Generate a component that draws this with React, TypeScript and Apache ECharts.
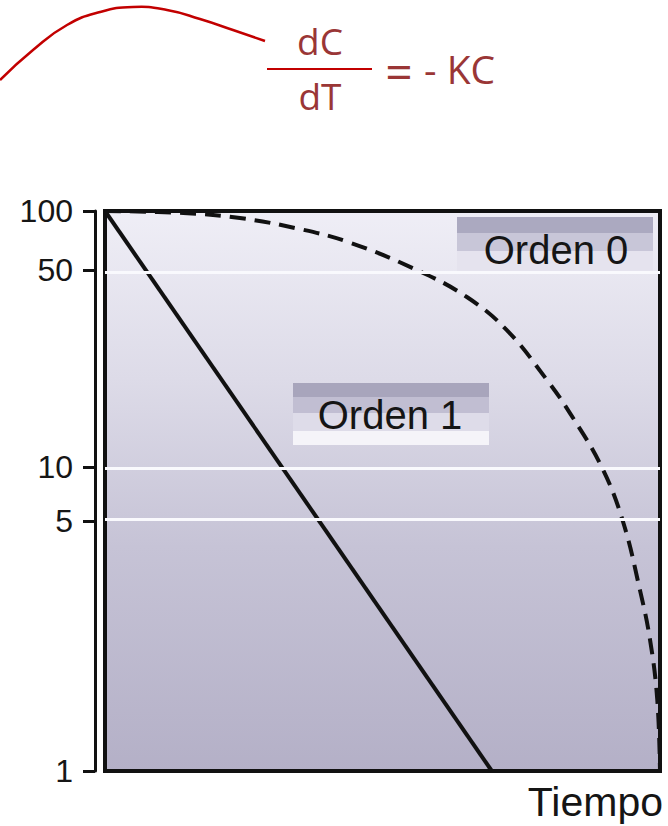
import React, { useEffect, useRef } from "react";
import * as echarts from "echarts";

// ---- data (time in % of the plotted span, concentration on the labelled scale) ----
const order0Time = [0, 14.1, 24.3, 35.1, 43.8, 56.2, 65.2, 72.4, 79.6, 83.8, 89.5, 93.3, 96.4, 98.2, 99.5, 100];
const order0Conc = [100, 97.7, 92.1, 80.9, 69.5, 50, 40.1, 30.6, 20.4, 15.5, 10, 5, 3.2, 2.33, 1.59, 1];
const order1Time = [0, 69.7];
const order1Conc = [100, 1];
const yTickLabels = [1, 5, 10, 50, 100];
const whiteGridValues = [50, 10, 5];

// The figure's vertical scale (hand-drawn, piecewise logarithmic between labelled ticks)
const SCALE_STOPS: [number, number][] = [
  [1, 0],
  [5, 0.4464],
  [10, 0.5429],
  [50, 0.8946],
  [100, 1],
];
function scalePos(c: number): number {
  const lc = Math.log10(c);
  for (let i = 0; i < SCALE_STOPS.length - 1; i++) {
    const [c0, p0] = SCALE_STOPS[i];
    const [c1, p1] = SCALE_STOPS[i + 1];
    if (c <= c1 || i === SCALE_STOPS.length - 2) {
      const f = (lc - Math.log10(c0)) / (Math.log10(c1) - Math.log10(c0));
      return p0 + f * (p1 - p0);
    }
  }
  return 0;
}
function labelFor(v: number): string {
  let best = yTickLabels[0];
  let d = Infinity;
  for (const t of yTickLabels) {
    const dd = Math.abs(scalePos(t) - v);
    if (dd < d) {
      d = dd;
      best = t;
    }
  }
  return String(best);
}

function bandGradient(stops: [number, number, string][]) {
  const cs: { offset: number; color: string }[] = [];
  for (const [a, b, c] of stops) {
    cs.push({ offset: a, color: c });
    cs.push({ offset: b, color: c });
  }
  return new echarts.graphic.LinearGradient(0, 0, 0, 1, cs);
}

export default function App() {
  const ref = useRef<HTMLDivElement>(null);
  useEffect(() => {
    if (!ref.current) return;
    const chart = echarts.init(ref.current, undefined, { renderer: "svg" });
    const font = "'Liberation Sans', Arial, Helvetica, sans-serif";
    const formulaFont = "'Open Sans', 'Noto Sans', sans-serif";
    const option: any = {
      animation: false,
      backgroundColor: "#ffffff",
      grid: {
        left: 105,
        right: 8,
        top: 211,
        bottom: 55,
        show: true,
        borderColor: "#111111",
        borderWidth: 4,
        backgroundColor: new echarts.graphic.LinearGradient(0, 0, 0, 1, [
          { offset: 0, color: "#efeef6" },
          { offset: 0.3, color: "#dddbe8" },
          { offset: 0.6, color: "#c6c3d6" },
          { offset: 1, color: "#b4b0c7" },
        ]),
      },
      xAxis: {
        type: "value",
        min: 0,
        max: 100,
        show: false,
      },
      yAxis: {
        type: "value",
        min: 0,
        max: 1,
        offset: 10,
        axisLine: { show: true, onZero: false, lineStyle: { color: "#111111", width: 3 } },
        axisTick: {
          show: true,
          inside: false,
          length: 12,
          lineStyle: { color: "#111111", width: 3 },
          customValues: yTickLabels.map(scalePos),
        },
        axisLabel: {
          show: true,
          margin: 22,
          fontFamily: font,
          fontSize: 32,
          color: "#161616",
          customValues: yTickLabels.map(scalePos),
          formatter: (v: number) => labelFor(v),
        },
        splitLine: { show: false },
      },
      series: [
        {
          name: "grid",
          type: "line",
          data: [],
          z: 1,
          silent: true,
          markLine: {
            silent: true,
            symbol: "none",
            label: { show: false },
            lineStyle: { color: "#f9f9fd", width: 3, type: "solid" },
            data: whiteGridValues.map((v) => ({ yAxis: scalePos(v) })),
          },
        },
        {
          name: "Orden 1",
          type: "line",
          z: 3,
          symbol: "none",
          clip: false,
          lineStyle: { color: "#111111", width: 4 },
          data: order1Time.map((t, i) => [t, scalePos(order1Conc[i])]),
        },
        {
          name: "Orden 0",
          type: "line",
          z: 3,
          symbol: "none",
          smooth: 0.4,
          clip: false,
          lineStyle: { color: "#111111", width: 4, type: [16, 9] },
          data: order0Time.map((t, i) => [t, scalePos(order0Conc[i])]),
        },
      ],
      graphic: [
        {
          type: "polyline",
          z: 10,
          shape: {
            points: [
              [0, 80], [33, 50], [67, 25], [100, 12], [133, 7], [167, 10], [200, 19], [233, 30], [265, 41],
            ],
            smooth: 0.5,
          },
          style: { stroke: "#c20000", lineWidth: 2.5, fill: null },
        },
        {
          type: "text",
          z: 10,
          x: 320,
          y: 40,
          style: { text: "dC", fontFamily: formulaFont, fontSize: 37, fill: "#9a3636", align: "center", verticalAlign: "middle" },
        },
        {
          type: "line",
          z: 10,
          shape: { x1: 267, y1: 69, x2: 372, y2: 69 },
          style: { stroke: "#c20000", lineWidth: 2 },
        },
        {
          type: "text",
          z: 10,
          x: 320,
          y: 95,
          style: { text: "dT", fontFamily: formulaFont, fontSize: 37, fill: "#9a3636", align: "center", verticalAlign: "middle" },
        },
        {
          type: "text",
          z: 10,
          x: 399,
          y: 70,
          style: { text: "=", fontFamily: formulaFont, fontSize: 48, fill: "#9a3636", align: "center", verticalAlign: "middle" },
        },
        {
          type: "text",
          z: 10,
          x: 424,
          y: 68,
          style: { text: "- KC", fontFamily: formulaFont, fontSize: 39, fill: "#9a3636", align: "left", verticalAlign: "middle" },
        },
        {
          type: "group",
          z: 10,
          children: [
            {
              type: "rect",
              shape: { x: 457, y: 217, width: 196, height: 55 },
              style: {
                fill: bandGradient([
                  [0, 0.3, "#aba9c0"],
                  [0.3, 0.62, "#c8c6d8"],
                  [0.62, 1, "#e5e3ee"],
                ]),
              },
            },
            {
              type: "text",
              x: 556,
              y: 250,
              style: { text: "Orden 0", fontFamily: font, fontSize: 40, fill: "#151515", align: "center", verticalAlign: "middle" },
            },
          ],
        },
        {
          type: "group",
          z: 10,
          children: [
            {
              type: "rect",
              shape: { x: 293, y: 383, width: 196, height: 62 },
              style: {
                fill: bandGradient([
                  [0, 0.22, "#a8a5bc"],
                  [0.22, 0.48, "#c1bed2"],
                  [0.48, 0.78, "#dedce9"],
                  [0.78, 1, "#f5f4f9"],
                ]),
              },
            },
            {
              type: "text",
              x: 390,
              y: 415,
              style: { text: "Orden 1", fontFamily: font, fontSize: 40, fill: "#151515", align: "center", verticalAlign: "middle" },
            },
          ],
        },
        {
          type: "text",
          z: 10,
          x: 663,
          y: 802,
          style: { text: "Tiempo", fontFamily: font, fontSize: 41, fill: "#151515", align: "right", verticalAlign: "middle" },
        },
      ],
    };
    chart.setOption(option);
    return () => chart.dispose();
  }, []);
  return <div ref={ref} style={{ width: 668, height: 826, position: "absolute", left: 0, top: 0 }} />;
}
